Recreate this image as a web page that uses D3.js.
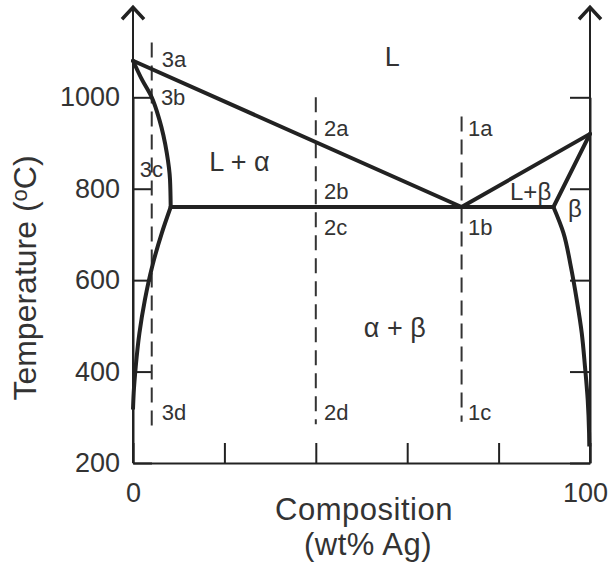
<!DOCTYPE html>
<html>
<head>
<meta charset="utf-8">
<script src="https://cdn.jsdelivr.net/npm/d3@7"></script>
<style>
  body { margin: 0; background: #fff; }
  text { font-family: "Liberation Sans", Arial, Helvetica, sans-serif; fill: #333; }
</style>
</head>
<body>
<div id="chart"></div>
<script>
// phase boundaries, [wt% Ag, temperature °C]
const liquidus = [[0, 1080], [71.9, 760], [100, 920]];
const solidusBeta = [[100, 920], [92, 760]];
const eutectic = [[8.25, 760], [92, 760]];
const solidusAlpha = [[0, 1080], [2, 1038], [4.1, 1000], [5.8, 950], [7.4, 878], [8.1, 820], [8.25, 760]];
const solvusAlpha = [[8.25, 760], [6.3, 703], [4.2, 630], [2.6, 557], [1.4, 484], [0.6, 411], [0.15, 353], [0, 317]];
const solvusBeta = [[92, 760], [94.2, 703], [95.8, 630], [97.1, 557], [98.2, 484], [98.9, 411], [99.5, 338], [99.8, 265], [99.85, 236]];

// vertical composition lines: [wt% Ag, top °C, bottom °C]
const alloys = [[4.1, 1120, 280], [40, 1000, 285], [71.9, 958, 290]];

// point labels and region labels: [text, wt% Ag, °C]
const pointLabels = [
  ["3a", 6.3, 1067], ["3b", 6.1, 983], ["3c", 1.5, 826], ["3d", 6.3, 294],
  ["2a", 41.8, 915], ["2b", 41.8, 777], ["2c", 41.8, 699], ["2d", 41.8, 294],
  ["1a", 73.3, 915], ["1b", 73.3, 699], ["1c", 73.3, 294]
];
const regionLabels = [
  ["L", 55.1, 1069, 27], ["L + α", 16.7, 839, 27], ["α + β", 50.5, 476, 27],
  ["L+β", 82.5, 775, 24], ["β", 95.2, 738, 24]
];

const xTicks = [0, 20, 40, 60, 80, 100];
const xLabels = [0, 100];
const yTicks = [200, 400, 600, 800, 1000];
const yTop = 1197;

const svg = d3.select("#chart")
    .append("svg")
    .attr("width", 611)
    .attr("height", 563);

const x = d3.scaleLinear().domain([0, 100]).range([133, 590]);
const y = d3.scaleLinear().domain([200, 1000]).range([463, 97.3]);

const ink = "#222";

// axes
const xAxis = d3.axisBottom(x)
    .tickValues(xTicks)
    .tickSize(-20)
    .tickSizeOuter(0)
    .tickPadding(20)
    .tickFormat(d => xLabels.includes(d) ? d : "");
const gx = svg.append("g")
    .attr("transform", `translate(0,${y(200)})`)
    .call(xAxis);
gx.selectAll("text").style("font-size", "27px");
gx.selectAll(".tick").filter(d => d === 100).select("text").attr("dx", -5);

const yAxisL = d3.axisLeft(y)
    .tickValues(yTicks)
    .tickSize(-19)
    .tickSizeOuter(0)
    .tickPadding(13)
    .tickFormat(d3.format("d"));
const gyl = svg.append("g")
    .attr("transform", `translate(${x(0)},0)`)
    .call(yAxisL);
gyl.selectAll("text").style("font-size", "27px");

const yAxisR = d3.axisRight(y)
    .tickValues(yTicks)
    .tickSize(-20)
    .tickSizeOuter(0)
    .tickFormat("");
svg.append("g")
    .attr("transform", `translate(${x(100)},0)`)
    .call(yAxisR);

svg.selectAll(".domain, .tick line")
    .attr("stroke", ink)
    .attr("stroke-width", 2);

// vertical axis lines with arrow heads
[0, 100].forEach(c => {
  svg.append("line")
      .attr("x1", x(c)).attr("x2", x(c))
      .attr("y1", y(200)).attr("y2", y(yTop))
      .attr("stroke", ink).attr("stroke-width", 2);
  svg.append("path")
      .attr("d", `M${x(c) - 11},${y(yTop) + 12}L${x(c)},${y(yTop)}L${x(c) + 11},${y(yTop) + 12}`)
      .attr("fill", "none")
      .attr("stroke", ink)
      .attr("stroke-width", 3.5);
});

// dashed alloy lines
svg.append("g")
    .selectAll("line")
    .data(alloys)
    .join("line")
    .attr("x1", d => x(d[0])).attr("x2", d => x(d[0]))
    .attr("y1", d => y(d[1])).attr("y2", d => y(d[2]))
    .attr("stroke", "#333")
    .attr("stroke-width", 2)
    .attr("stroke-dasharray", "15,8");

// phase boundaries
const straight = d3.line().x(d => x(d[0])).y(d => y(d[1]));
const smooth = d3.line().x(d => x(d[0])).y(d => y(d[1])).curve(d3.curveMonotoneY);

const bounds = svg.append("g")
    .attr("fill", "none")
    .attr("stroke", ink)
    .attr("stroke-width", 4)
    .attr("stroke-linejoin", "round")
    .attr("stroke-linecap", "round");
bounds.append("path").attr("d", straight(liquidus));
bounds.append("path").attr("d", straight(solidusBeta));
bounds.append("path").attr("d", straight(eutectic));
bounds.append("path").attr("d", smooth(solidusAlpha));
bounds.append("path").attr("d", smooth(solvusAlpha)).attr("stroke-linecap", "butt");
bounds.append("path").attr("d", smooth(solvusBeta)).attr("stroke-linecap", "butt");

// labels
svg.append("g")
    .selectAll("text")
    .data(pointLabels)
    .join("text")
    .attr("x", d => x(d[1]))
    .attr("y", d => y(d[2]))
    .style("font-size", "22px")
    .text(d => d[0]);

svg.append("g")
    .selectAll("text")
    .data(regionLabels)
    .join("text")
    .attr("x", d => x(d[1]))
    .attr("y", d => y(d[2]))
    .style("font-size", d => d[3] + "px")
    .text(d => d[0]);

// axis titles
svg.append("text")
    .attr("x", 364).attr("y", 520)
    .attr("text-anchor", "middle")
    .style("font-size", "31px")
    .style("letter-spacing", "0.5px")
    .text("Composition");
svg.append("text")
    .attr("x", 368).attr("y", 555)
    .attr("text-anchor", "middle")
    .style("font-size", "31px")
    .style("letter-spacing", "0.5px")
    .text("(wt% Ag)");

const ylab = svg.append("text")
    .attr("transform", "translate(36,278) rotate(-90)")
    .attr("text-anchor", "middle")
    .style("font-size", "32px");
ylab.append("tspan").text("Temperature (");
ylab.append("tspan").attr("dy", -9).style("font-size", "22px").text("o");
ylab.append("tspan").attr("dy", 9).text("C)");
</script>
</body>
</html>
